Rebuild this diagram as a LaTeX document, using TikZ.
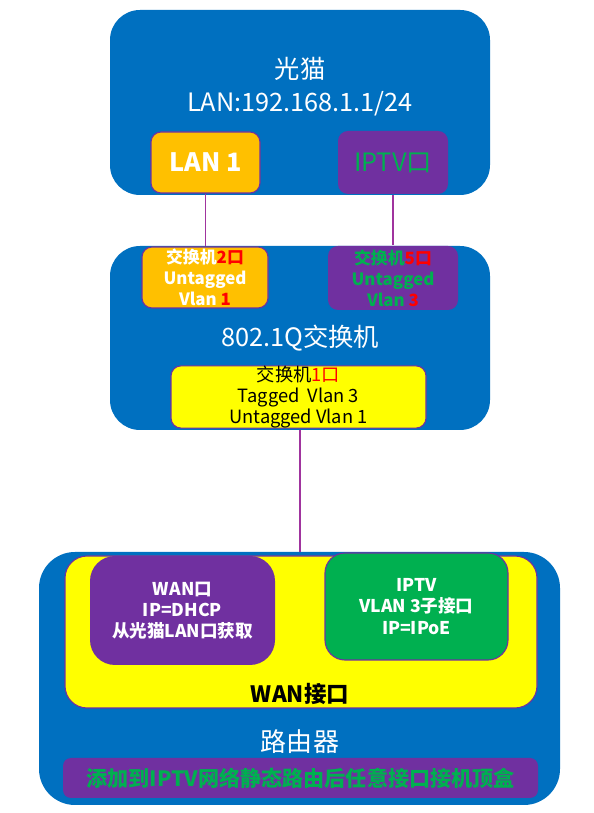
\documentclass[tikz,border=0pt]{standalone}
\usepackage{fontspec}
\setmainfont{Noto Sans CJK SC}
\usepackage{tikz}
\usetikzlibrary{positioning}
\definecolor{Ocean}{HTML}{0070C0}
\definecolor{Amber}{HTML}{FFC000}
\definecolor{Violet}{HTML}{7030A0}
\definecolor{Leaf}{HTML}{00B050}
\definecolor{Lemon}{HTML}{FFFF00}
\definecolor{Wire}{HTML}{A0349E}

\begin{document}
\begin{tikzpicture}[x=1cm,y=1cm,
    panel/.style={fill=Ocean,rounded corners=#1,inner sep=0pt},
    panel/.default=0.75cm,
    port/.style={draw=Violet,line width=0.8pt,rounded corners=0.25cm,inner sep=0pt,align=center},
    wire/.style={Wire,line width=1.4pt}]
    \useasboundingbox (0,0) rectangle (14.85,20.325);
    % modem
    \node[panel, minimum width=9.5cm, minimum height=4.625cm] (modem) at (7.5,17.7625) {};
    \node[white, align=center, font=\fontsize{18}{23.5}\selectfont] (modemtxt) at (7.5,18.1625) {光猫\\LAN:192.168.1.1/24};
    \node[port, fill=Amber, minimum width=2.725cm, minimum height=1.525cm, text=white,
      font=\bfseries\fontsize{18}{22}\selectfont] (lan) at (5.1375,16.2625) {LAN 1};
    \node[port, draw=none, fill=Violet, minimum width=2.75cm, minimum height=1.575cm, text=Leaf,
      font=\fontsize{18}{22}\selectfont] (iptvport) at (9.825,16.2625) {IPTV口};
    % switch
    \node[panel, minimum width=9.5cm, minimum height=4.6cm] (switch) at (7.5,11.875) {};
    \node[port, fill=Amber, minimum width=3.15cm, minimum height=1.525cm, text=white,
      font=\bfseries\fontsize{12}{15}\selectfont] (sw2) at (5.125,13.3875)
      {交换机\textcolor{red}{2口}\\Untagged\\Vlan \textcolor{red}{1}};
    \node[port, draw=none, fill=Violet, minimum width=3.25cm, minimum height=1.6cm, text=Leaf,
      font=\bfseries\fontsize{12}{15}\selectfont] (sw5) at (9.825,13.375)
      {交换机\textcolor{red}{5口}\\Untagged\\Vlan \textcolor{red}{3}};
    \node[white, font=\fontsize{18}{22}\selectfont] (swtxt) at (7.5,11.875) {802.1Q交换机};
    \node[port, fill=Lemon, minimum width=6.375cm, minimum height=1.55cm,
      font=\fontsize{13}{15}\selectfont] (sw1) at (7.4625,10.4)
      {交换机\textcolor{red}{1口}\\Tagged\ \ Vlan 3\\Untagged Vlan 1};
    % router
    \node[panel=0.9cm, minimum width=13.025cm, minimum height=6.325cm] (router) at (7.4875,3.3625) {};
    \node[port, fill=Lemon, rounded corners=0.55cm, minimum width=11.8cm, minimum height=3.8cm] (wan) at (7.525,4.525) {};
    \node[port, draw=none, fill=Violet, rounded corners=0.625cm, minimum width=4.625cm, minimum height=2.725cm,
      text=white, font=\bfseries\fontsize{12.5}{15}\selectfont] (wanport) at (4.5625,5.0625)
      {WAN口\\IP=DHCP\\从光猫LAN口获取};
    \node[port, fill=Leaf, rounded corners=0.5cm, minimum width=4.575cm, minimum height=2.675cm,
      text=white, font=\bfseries\fontsize{12.5}{15}\selectfont] (sub) at (10.4125,5.1625)
      {IPTV\\VLAN 3子接口\\IP=IPoE};
    \node[font=\bfseries\fontsize{16}{20}\selectfont] (wantxt) at (7.5,2.975) {WAN接口};
    \node[white, font=\fontsize{18.5}{22}\selectfont] (routertxt) at (7.5,1.775) {路由器};
    \node[fill=Violet, rounded corners=0.2cm, minimum width=11.875cm, minimum height=1cm, text=Leaf,
      font=\bfseries\fontsize{15}{18}\selectfont] (route) at (7.5125,0.875) {添加到IPTV网络静态路由后任意接口接机顶盒};
    % links
    \draw[wire] (lan.south) -- (lan.south |- sw2.north);
    \draw[wire] (iptvport.south) -- (iptvport.south |- sw5.north);
    \draw[wire] (switch.south) -- (switch.south |- router.north);
  \end{tikzpicture}
\end{document}
